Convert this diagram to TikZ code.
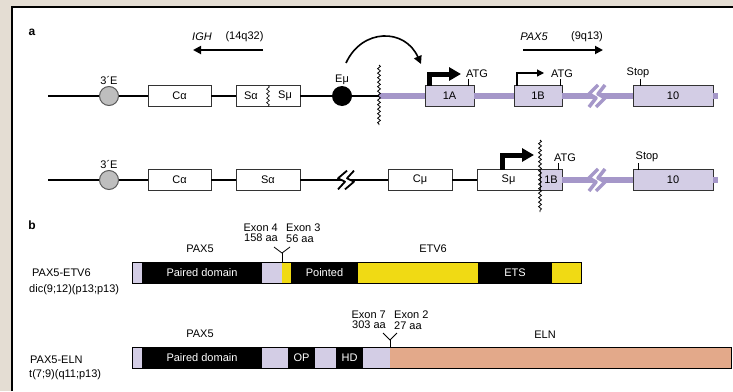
\documentclass[tikz,border=0pt]{standalone}
\usepackage{fontspec}
\setmainfont{Liberation Sans}
\usetikzlibrary{arrows.meta,positioning,decorations.pathmorphing}

\definecolor{bgbeige}{HTML}{E4DDD3}
\definecolor{lavline}{HTML}{A597C9}
\definecolor{lavbox}{HTML}{D3CDE5}
\definecolor{etvyellow}{HTML}{F0DA14}
\definecolor{elnsalmon}{HTML}{E3A98A}
\definecolor{enhgray}{HTML}{BEBEBE}

\begin{document}
\begin{tikzpicture}[x=1pt, y=-1pt,
        font=\fontsize{11}{10.5}\selectfont,
        node distance=0pt,
        gbox/.style={draw=black!80, line width=0.9pt, fill=white, minimum height=21pt,
            inner sep=0pt, outer sep=0pt},
        exbox/.style={gbox, fill=lavbox},
        enh/.style={circle, draw=black!65, line width=1pt, fill=enhgray, minimum size=19pt, inner sep=0pt},
        emuc/.style={circle, fill=black, minimum size=20pt, inner sep=0pt},
        lbl/.style={inner sep=1pt},
        dna/.style={line width=1.8pt},
        lavdna/.style={line width=6pt, lavline},
        tick/.style={line width=1pt},
        wave/.style={decorate, decoration={snake, amplitude=1.4pt, segment length=4.5pt}, line width=0.8pt},
        arr/.style={-{Triangle[length=8pt, width=8pt]}, line width=1.8pt},
        bigprom/.style={-{Triangle[length=12pt, width=13pt]}, line width=5pt},
        prom/.style={-{Triangle[length=7pt, width=7pt]}, line width=1.2pt},
        seg/.style={minimum height=21pt, inner sep=0pt, outer sep=0pt, text=white, fill=black},
        fork/.style={line width=0.8pt},
        brkmark/.pic={
            \fill[white] (1,-11) -- (8,-11) -- (1,-2) -- (8,2) -- (-1,11) -- (-8,11) -- (-1,2) -- (-8,-2) -- cycle;
            \draw[line join=round] (1,-11) -- (-8,-2) -- (-1,2) -- (-8,11);
            \draw[line join=round] (8,-11) -- (1,-2) -- (8,2) -- (-1,11);
        }
    ]
    \useasboundingbox (0,0) rectangle (733,391);
    \fill[bgbeige] (0,0) rectangle (733,391);
    \fill[white] (12,7) rectangle (733,391);
    \draw[line width=2.2pt] (12,391) -- (12,7) -- (733,7);

    % panel a
    \node[font=\fontsize{12}{12}\selectfont\bfseries] (pa) at (32,32) {a};

    \node (igh) at (202,37) {\itshape IGH};
    \node (ighq) at (244.5,37) {(14q32)};
    \coordinate (ig0) at (263,50);
    \coordinate (ig1) at (193,50);
    \draw[arr] (ig0) -- (ig1);
    \node (pax) at (534,37) {\itshape PAX5};
    \node (paxq) at (587,37) {(9q13)};
    \coordinate (px0) at (523,50);
    \coordinate (px1) at (603,50);
    \draw[arr] (px0) -- (px1);

    % normal alleles
    \coordinate (s1) at (48,96);
    \node[enh, label={[lbl]above:3´E}] (e1) at (109,96) {};
    \node[gbox, minimum width=63pt] (ca1) at (179.5,96) {Cα};
    \node[gbox, minimum width=64pt] (ss1) at (268,96) {};
    \node (sa1) at (251,96) {Sα};
    \node (sm1) at (285,96) {Sμ};
    \node[emuc, label={[lbl]above:Eμ}] (em1) at (342,96) {};
    \coordinate (w1) at (379,96);
    \node[exbox, minimum width=49pt] (x1A) at (449.5,96) {1A};
    \node[exbox, minimum width=48pt] (x1B) at (538,96) {1B};
    \coordinate (c1) at (597,96);
    \node[exbox, minimum width=80pt] (x10) at (673,96) {10};
    \coordinate (f1) at (718,96);

    \draw[dna] (s1) -- (e1) -- (ca1) -- (ss1) -- (em1) -- (w1);
    \draw[lavdna] (w1) -- (x1A) -- (x1B) -- (c1) -- (x10) -- (f1);
    \pic[lavline, line width=3.5pt] at (c1) {brkmark};
    \draw[wave] (379,65) -- (379,125);
    \draw[wave, line width=0.6pt] (ss1.north) -- (ss1.south);

    \coordinate (cvs) at (346,63);
    \coordinate (cve) at (421,64);
    \draw[arr, line width=1.6pt] (cvs) .. controls (362,28) and (405,28) .. (cve);

    \coordinate (t1A) at (461,74);
    \draw[bigprom] ([xshift=4pt]x1A.north west) |- (t1A);
    \coordinate (t1B) at (544,73);
    \draw[prom] ([xshift=3pt]x1B.north west) |- (t1B);
    \draw[tick] (468,86) -- (468,79) node[above, lbl, xshift=9pt] (atg1) {ATG};
    \draw[tick] (560,86) -- (560,79) node[above, lbl, xshift=2pt] (atg2) {ATG};
    \draw[tick] (640,86) -- (640,79) node[above, lbl, xshift=-2pt] (stp1) {Stop};

    % translocated allele
    \coordinate (s2) at (48,180);
    \node[enh, label={[lbl]above:3´E}] (e2) at (109,180) {};
    \node[gbox, minimum width=63pt] (ca2) at (179.5,180) {Cα};
    \node[gbox, minimum width=64pt] (sa2) at (268,180) {Sα};
    \coordinate (c2) at (346,180);
    \node[gbox, minimum width=64pt] (cm2) at (420,180) {Cμ};
    \node[gbox, minimum width=63pt] (sm2) at (508.5,180) {Sμ};
    \node[exbox, minimum width=22pt] (x1B2) at (551,180) {1B};
    \coordinate (c3) at (597,180);
    \node[exbox, minimum width=80pt] (x102) at (673,180) {10};
    \coordinate (f2) at (718,180);

    \draw[dna] (s2) -- (e2) -- (ca2) -- (sa2) -- (c2) -- (cm2) -- (sm2);
    \draw[lavdna] (x1B2) -- (c3) -- (x102) -- (f2);
    \pic[black, line width=1.8pt, yscale=0.85] at (c2) {brkmark};
    \pic[lavline, line width=3.5pt] at (c3) {brkmark};
    \draw[wave] (540,140) -- (540,212);

    \coordinate (t2) at (534,155);
    \draw[bigprom] ([xshift=25pt]sm2.north west) |- (t2);
    \draw[tick] (558,170) -- (558,163) node[above, lbl, xshift=7pt] (atg3) {ATG};
    \draw[tick] (638,170) -- (638,163) node[above, lbl, xshift=9pt] (stp2) {Stop};

    % panel b
    \node[font=\fontsize{12}{12}\selectfont\bfseries] (pb) at (32,225) {b};

    \node[anchor=west, lbl] (fus1) at (31,273) {PAX5-ETV6};
    \node[anchor=west, lbl] (fus1b) at (28,290) {dic(9;12)(p13;p13)};
    \node (pax1) at (200,249) {PAX5};
    \node (etv) at (433,249) {ETV6};
    \node[anchor=east, align=right, lbl] (ex4) at (279,233) {Exon 4\\158 aa};
    \node[anchor=west, align=left, lbl] (ex3) at (285,233) {Exon 3\\56 aa};

    \node[seg, fill=lavbox, minimum width=10pt] (e6a) at (137,272.5) {};
    \node[seg, right=of e6a, minimum width=120pt] (e6pd) {Paired domain};
    \node[seg, right=of e6pd, fill=lavbox, minimum width=20pt] (e6b) {};
    \node[seg, right=of e6b, fill=etvyellow, minimum width=9pt] (e6y1) {};
    \node[seg, right=of e6y1, minimum width=67pt] (e6pt) {Pointed};
    \node[seg, right=of e6pt, fill=etvyellow, minimum width=120pt] (e6y2) {};
    \node[seg, right=of e6y2, minimum width=74pt] (e6ets) {ETS};
    \node[seg, right=of e6ets, fill=etvyellow, minimum width=29pt] (e6y3) {};
    \draw[line width=0.8pt] (e6a.north west) rectangle (e6y3.south east);

    \coordinate (j1) at (282,253);
    \draw[fork] (274,247) -- (j1) -- (290,247);
    \draw[fork] (j1) -- (e6b.north east);

    \node[anchor=west, lbl] (fus2) at (29,360) {PAX5-ELN};
    \node[anchor=west, lbl] (fus2b) at (28,375) {t(7;9)(q11;p13)};
    \node (pax2) at (200,334) {PAX5};
    \node (eln) at (545,335) {ELN};
    \node[anchor=east, align=right, lbl] (ex7) at (387,320) {Exon 7\\303 aa};
    \node[anchor=west, align=left, lbl] (ex2) at (393,320) {Exon 2\\27 aa};

    \node[seg, fill=lavbox, minimum width=10pt] (l7a) at (137,357.5) {};
    \node[seg, right=of l7a, minimum width=120pt] (l7pd) {Paired domain};
    \node[seg, right=of l7pd, fill=lavbox, minimum width=26pt] (l7b) {};
    \node[seg, right=of l7b, minimum width=27pt] (l7op) {OP};
    \node[seg, right=of l7op, fill=lavbox, minimum width=21pt] (l7c) {};
    \node[seg, right=of l7c, minimum width=27pt] (l7hd) {HD};
    \node[seg, right=of l7hd, fill=lavbox, minimum width=27pt] (l7d) {};
    \node[seg, right=of l7d, fill=elnsalmon, minimum width=341pt] (l7eln) {};
    \draw[line width=0.8pt] (l7a.north west) rectangle (l7eln.south east);

    \coordinate (j2) at (390,340);
    \draw[fork] (383,333) -- (j2) -- (397,333);
    \draw[fork] (j2) -- (l7d.north east);
\end{tikzpicture}
\end{document}
